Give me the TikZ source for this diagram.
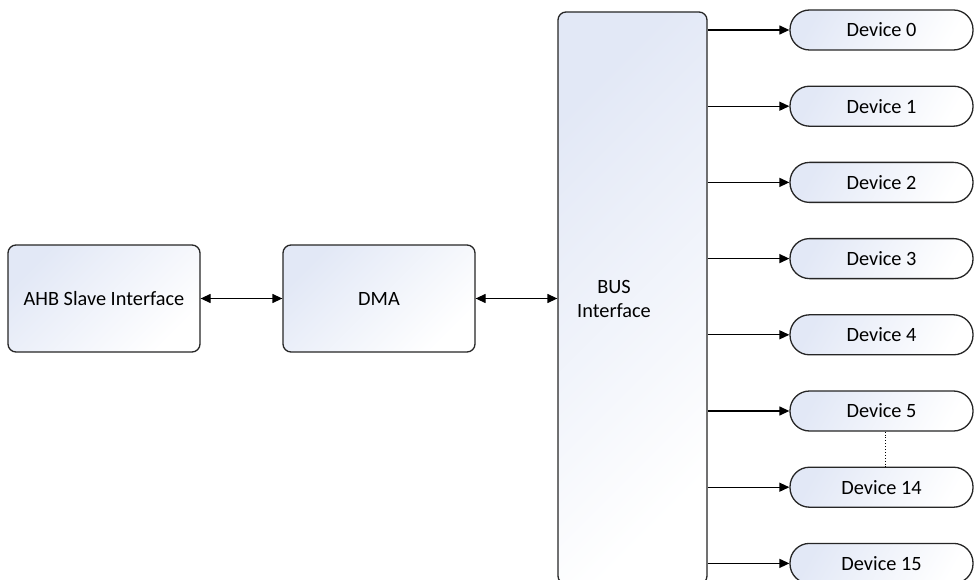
\documentclass[tikz,border=0pt]{standalone}
\usepackage{fontspec}
\setmainfont{Carlito}
\usetikzlibrary{arrows.meta}
\definecolor{shadeblue}{RGB}{226,232,246}
\begin{document}
\begin{tikzpicture}[x=1pt,y=-1pt,
  font=\fontsize{20.3}{24}\selectfont,
  blk/.style={draw=black!85, line width=1.3pt, rounded corners=8pt, left color=shadeblue, right color=white, shading angle=45, inner sep=0pt},
  dev/.style={draw=black!85, line width=1.3pt, rounded corners=19.5pt, left color=shadeblue, right color=white, shading angle=60, minimum width=183pt, minimum height=40pt, inner sep=0pt},
  arr/.style={line width=1.3pt, -{Triangle[length=10pt,width=9pt]}},
  darr/.style={line width=1.3pt, {Triangle[length=10pt,width=9pt]}-{Triangle[length=10pt,width=9pt]}}]
\useasboundingbox (0,0) rectangle (974,580);
\clip (0,0) rectangle (974,580);
\node[blk, minimum width=192pt, minimum height=107pt] (ahb) at (104,298.5) {AHB Slave Interface};
\node[blk, minimum width=192pt, minimum height=107pt] (dma) at (379,298.5) {DMA};
\node[blk, minimum width=149pt, minimum height=572pt] (bus) at (632.5,298) {};
\node[align=center, inner sep=0pt] (bustxt) at (614,299) {BUS\\Interface};
\foreach \i/\t in {0/Device 0,1/Device 1,2/Device 2,3/Device 3,4/Device 4,5/Device 5,6/Device 14,7/Device 15}{
  \node[dev] (d\i) at (881.5,{30+76.2*\i}) {\t};
  \draw[arr] (bus.east |- d\i.west) -- (d\i.west);
}
\draw[darr] (ahb.east) -- (dma.west);
\draw[darr] (dma.east) -- (dma.east -| bus.west);
\draw[line width=0.9pt, dotted] (d5.south -| 885,0) -- (d6.north -| 885,0);
\end{tikzpicture}
\end{document}
